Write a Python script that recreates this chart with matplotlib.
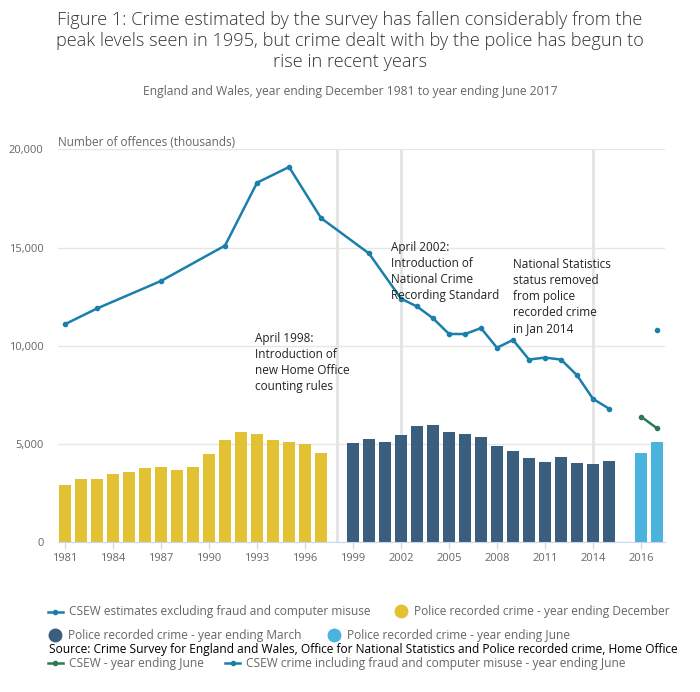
import matplotlib
matplotlib.use("Agg")
import matplotlib.pyplot as plt
from matplotlib.lines import Line2D
import numpy as np

plt.rcParams['font.family'] = ['Open Sans', 'DejaVu Sans']

# x positions: one slot per year, 1981 = 0
dec_years = list(range(1981, 1998))
dec_vals = [2900, 3200, 3200, 3500, 3600, 3800, 3850, 3700, 3850, 4500,
            5200, 5600, 5500, 5200, 5100, 5000, 4550]
mar_years = list(range(1999, 2016))
mar_vals = [5050, 5250, 5100, 5450, 5900, 5950, 5600, 5500, 5350, 4900,
            4650, 4300, 4100, 4350, 4050, 4000, 4150]
jun_pos = [36, 37]
jun_vals = [4550, 5100]

csew_years = [1981, 1983, 1987, 1991, 1993, 1995, 1997, 2000, 2002, 2003,
              2004, 2005, 2006, 2007, 2008, 2009, 2010, 2011, 2012, 2013,
              2014, 2015]
csew_vals = [11100, 11900, 13300, 15100, 18300, 19100, 16500, 14700, 12400,
             12000, 11400, 10600, 10600, 10900, 9900, 10300, 9300, 9400,
             9300, 8500, 7300, 6800]
csew_jun_vals = [6400, 5800]
csew_fraud_pos = [37]
csew_fraud_vals = [10800]

tick_pos = [0, 3, 6, 9, 12, 15, 18, 21, 24, 27, 30, 33, 36]
tick_labels = ['1981', '1984', '1987', '1990', '1993', '1996', '1999',
               '2002', '2005', '2008', '2011', '2014', '2016']
vlines = [17, 21, 33]

c_dec = '#e2c233'
c_mar = '#3a5e7e'
c_jun = '#4ab3de'
c_line = '#1a7fab'
c_green = '#2c7a55'
grey = '#666666'

fig = plt.figure(figsize=(7, 6.92), dpi=100)
ax = fig.add_axes([58/700, 1-542.3/692, 607/700, 393/692])

for v in vlines:
    ax.axvline(v, color='#e3e3e3', lw=2, zorder=1)

ax.bar([y - 1981 for y in dec_years], dec_vals, width=0.78, color=c_dec, zorder=2)
ax.bar([y - 1981 for y in mar_years], mar_vals, width=0.78, color=c_mar, zorder=2)
ax.bar(jun_pos, jun_vals, width=0.78, color=c_jun, zorder=2)

ax.plot([y - 1981 for y in csew_years], csew_vals, color=c_line, lw=1.8,
        marker='o', ms=3, zorder=4)
ax.plot(jun_pos, csew_jun_vals, color=c_green, lw=1.8, marker='o', ms=3, zorder=4)
ax.plot(csew_fraud_pos, csew_fraud_vals, color=c_line, lw=0, marker='o', ms=3, zorder=4)

ax.set_xlim(-0.44, 37.5)
ax.set_ylim(0, 20000)
ax.set_yticks([0, 5000, 10000, 15000, 20000])
ax.set_yticklabels(['0', '5,000', '10,000', '15,000', '20,000'])
ax.set_xticks(tick_pos)
ax.set_xticklabels(tick_labels)
ax.tick_params(axis='y', length=0, labelsize=8, labelcolor=grey, pad=10.5)
ax.tick_params(axis='x', length=5, color='#ccd6eb', labelsize=8, labelcolor=grey, pad=3)
ax.grid(axis='y', color='#e6e6e6', lw=1, zorder=0)
ax.set_axisbelow(True)
for s in ['top', 'right', 'left']:
    ax.spines[s].set_visible(False)
ax.spines['bottom'].set_color('#ccd6eb')

ann_kw = dict(fontsize=8.5, color='#222222', va='top', ha='left', linespacing=1.3, zorder=5)
ax.text(11.85, 10700, 'April 1998:\nIntroduction of\nnew Home Office\ncounting rules', **ann_kw)
ax.text(20.4, 15350, 'April 2002:\nIntroduction of\nNational Crime\nRecording Standard', **ann_kw)
ax.text(28.0, 14450, 'National Statistics\nstatus removed\nfrom police\nrecorded crime\nin Jan 2014', **ann_kw)

fig.text(0.5, 1-11/692, 'Figure 1: Crime estimated by the survey has fallen considerably from the\n'
         'peak levels seen in 1995, but crime dealt with by the police has begun to\n'
         'rise in recent years', ha='center', va='top', fontsize=13.1, color='#333333',
         linespacing=1.2, fontweight='light')
fig.text(0.5, 1-91/692, 'England and Wales, year ending December 1981 to year ending June 2017',
         ha='center', va='center', fontsize=8.7, color=grey)
fig.text(58/700, 1-142/692, 'Number of offences (thousands)', ha='left', va='center',
         fontsize=8.5, color=grey)

# legend, drawn by hand
def leg_line(x, y, color, label):
    fy = 1 - y/692
    fig.add_artist(Line2D([x/700, (x+15)/700], [fy, fy], color=color, lw=1.8))
    fig.add_artist(Line2D([(x+7.5)/700], [fy], color=color, marker='o', ms=3, lw=0))
    fig.text((x+21)/700, fy, label, ha='left', va='center', fontsize=8.6, color=grey)

def leg_dot(x, y, color, label):
    fy = 1 - y/692
    fig.add_artist(Line2D([x/700], [fy], color=color, marker='o', ms=9, lw=0))
    fig.text((x+13)/700, fy, label, ha='left', va='center', fontsize=8.6, color=grey)

leg_line(48, 612, c_line, 'CSEW estimates excluding fraud and computer misuse')
leg_dot(401, 611, c_dec, 'Police recorded crime - year ending December')
leg_dot(55, 635, c_mar, 'Police recorded crime - year ending March')
leg_dot(334, 635, c_jun, 'Police recorded crime - year ending June')
leg_line(48, 663, c_green, 'CSEW - year ending June')
leg_line(225, 663, c_line, 'CSEW crime including fraud and computer misuse - year ending June')

fig.text(49/700, 1-649/692, 'Source: Crime Survey for England and Wales, Office for National '
         'Statistics and Police recorded crime, Home Office', ha='left', va='center',
         fontsize=8.65, color='#000000')

fig.savefig('out.png', dpi=100)
